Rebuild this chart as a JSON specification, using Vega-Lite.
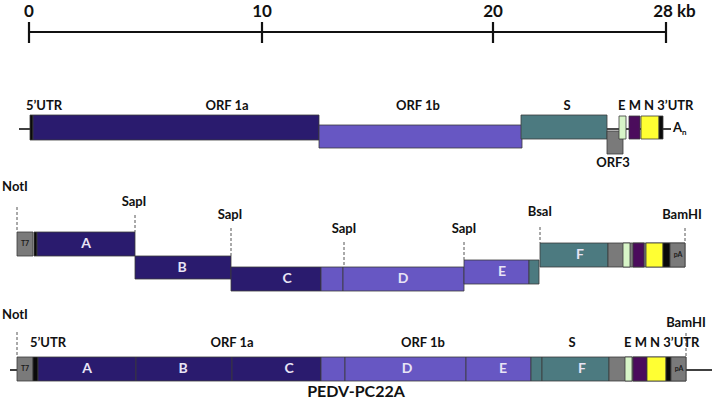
{
  "$schema": "https://vega.github.io/schema/vega-lite/v6.json",
  "width": 714,
  "height": 409,
  "padding": 0,
  "autosize": {"type": "fit", "contains": "padding"},
  "background": "white",
  "config": {"view": {"stroke": null}},
  "datasets": {
    "boxes": [
      {"row": "genome", "part": "black", "x": 30, "x2": 33, "y": 115, "y2": 140},
      {"row": "genome", "part": "navy", "x": 33, "x2": 319, "y": 115, "y2": 140},
      {"row": "genome", "part": "lavender", "x": 319, "x2": 522, "y": 125, "y2": 148},
      {"row": "genome", "part": "teal", "x": 521, "x2": 607, "y": 115, "y2": 139},
      {"row": "genome", "part": "grey", "x": 607, "x2": 623, "y": 131, "y2": 154},
      {"row": "genome", "part": "lightgreen", "x": 619, "x2": 626, "y": 116, "y2": 139},
      {"row": "genome", "part": "purple", "x": 629, "x2": 640, "y": 116, "y2": 139},
      {"row": "genome", "part": "yellow", "x": 641, "x2": 659, "y": 116, "y2": 139},
      {"row": "genome", "part": "black", "x": 659, "x2": 663, "y": 116, "y2": 139},

      {"row": "fragments", "part": "grey", "x": 17, "x2": 33, "y": 232, "y2": 256},
      {"row": "fragments", "part": "black", "x": 34, "x2": 37, "y": 232, "y2": 256},
      {"row": "fragments", "part": "navy", "x": 37, "x2": 135, "y": 232, "y2": 256},
      {"row": "fragments", "part": "navy", "x": 135, "x2": 231, "y": 256, "y2": 279},
      {"row": "fragments", "part": "navy", "x": 231, "x2": 321, "y": 267, "y2": 291},
      {"row": "fragments", "part": "lavender", "x": 321, "x2": 343, "y": 267, "y2": 291},
      {"row": "fragments", "part": "lavender", "x": 343, "x2": 464, "y": 267, "y2": 291},
      {"row": "fragments", "part": "lavender", "x": 464, "x2": 529, "y": 260, "y2": 284},
      {"row": "fragments", "part": "teal", "x": 529, "x2": 539, "y": 260, "y2": 284},
      {"row": "fragments", "part": "teal", "x": 540, "x2": 608, "y": 243, "y2": 267},
      {"row": "fragments", "part": "grey", "x": 608, "x2": 685, "y": 243, "y2": 267},
      {"row": "fragments", "part": "lightgreen", "x": 623, "x2": 630, "y": 243, "y2": 267},
      {"row": "fragments", "part": "purple", "x": 633, "x2": 644, "y": 243, "y2": 267},
      {"row": "fragments", "part": "yellow", "x": 646, "x2": 663, "y": 243, "y2": 267},
      {"row": "fragments", "part": "black", "x": 663, "x2": 670, "y": 243, "y2": 267},
      {"row": "fragments", "part": "grey", "x": 670, "x2": 685, "y": 243, "y2": 267},

      {"row": "clone", "part": "grey", "x": 17, "x2": 33, "y": 357, "y2": 381},
      {"row": "clone", "part": "black", "x": 33, "x2": 38, "y": 357, "y2": 381},
      {"row": "clone", "part": "navy", "x": 38, "x2": 136, "y": 357, "y2": 381},
      {"row": "clone", "part": "navy", "x": 136, "x2": 232, "y": 357, "y2": 381},
      {"row": "clone", "part": "navy", "x": 232, "x2": 321, "y": 357, "y2": 381},
      {"row": "clone", "part": "lavender", "x": 321, "x2": 345, "y": 357, "y2": 381},
      {"row": "clone", "part": "lavender", "x": 345, "x2": 466, "y": 357, "y2": 381},
      {"row": "clone", "part": "lavender", "x": 466, "x2": 531, "y": 357, "y2": 381},
      {"row": "clone", "part": "teal", "x": 531, "x2": 542, "y": 357, "y2": 381},
      {"row": "clone", "part": "teal", "x": 542, "x2": 609, "y": 357, "y2": 381},
      {"row": "clone", "part": "grey", "x": 609, "x2": 686, "y": 357, "y2": 381},
      {"row": "clone", "part": "lightgreen", "x": 625, "x2": 632, "y": 357, "y2": 381},
      {"row": "clone", "part": "purple", "x": 633, "x2": 647, "y": 357, "y2": 381},
      {"row": "clone", "part": "yellow", "x": 647, "x2": 666, "y": 357, "y2": 381},
      {"row": "clone", "part": "black", "x": 666, "x2": 671, "y": 357, "y2": 381},
      {"row": "clone", "part": "grey", "x": 671, "x2": 686, "y": 357, "y2": 381}
    ],
    "lines": [
      {"kind": "scale", "x": 29, "x2": 666, "y": 32, "y2": 32},
      {"kind": "scale", "x": 29, "x2": 29, "y": 22, "y2": 43},
      {"kind": "scale", "x": 262, "x2": 262, "y": 22, "y2": 43},
      {"kind": "scale", "x": 493, "x2": 493, "y": 22, "y2": 43},
      {"kind": "scale", "x": 666, "x2": 666, "y": 22, "y2": 43},
      {"kind": "seq", "x": 19, "x2": 30, "y": 129, "y2": 129},
      {"kind": "seq", "x": 607, "x2": 660, "y": 129, "y2": 129},
      {"kind": "seq", "x": 663, "x2": 671, "y": 129, "y2": 129},
      {"kind": "seq", "x": 10, "x2": 17, "y": 370, "y2": 370},
      {"kind": "seq", "x": 686, "x2": 712, "y": 370, "y2": 370}
    ],
    "dashes": [
      {"x": 17, "y": 207, "y2": 232},
      {"x": 135, "y": 215, "y2": 232},
      {"x": 231, "y": 228, "y2": 256},
      {"x": 344, "y": 242, "y2": 267},
      {"x": 464, "y": 242, "y2": 260},
      {"x": 540, "y": 227, "y2": 243},
      {"x": 685, "y": 228, "y2": 243},
      {"x": 17, "y": 332, "y2": 357},
      {"x": 686, "y": 333, "y2": 357}
    ],
    "labels": [
      {"kind": "scale", "text": "0", "x": 29, "y": 12},
      {"kind": "scale", "text": "10", "x": 262, "y": 12},
      {"kind": "scale", "text": "20", "x": 493, "y": 12},
      {"kind": "scale", "text": "28", "x": 663, "y": 12},
      {"kind": "scaleL", "text": "kb", "x": 677, "y": 12},

      {"kind": "gene", "text": "5’UTR", "x": 44, "y": 106},
      {"kind": "gene", "text": "ORF 1a", "x": 227, "y": 106},
      {"kind": "gene", "text": "ORF 1b", "x": 418, "y": 106},
      {"kind": "gene", "text": "S", "x": 567, "y": 106},
      {"kind": "geneL", "text": "E M N 3’UTR", "x": 618, "y": 106},
      {"kind": "gene", "text": "ORF3", "x": 613, "y": 163},
      {"kind": "geneL", "text": "A", "x": 673, "y": 128},
      {"kind": "sub", "text": "n", "x": 682, "y": 133},

      {"kind": "site", "text": "NotI", "x": 15, "y": 187},
      {"kind": "site", "text": "SapI", "x": 134, "y": 202},
      {"kind": "site", "text": "SapI", "x": 230, "y": 215},
      {"kind": "site", "text": "SapI", "x": 344, "y": 229},
      {"kind": "site", "text": "SapI", "x": 464, "y": 229},
      {"kind": "site", "text": "BsaI", "x": 540, "y": 212},
      {"kind": "site", "text": "BamHI", "x": 682, "y": 215},
      {"kind": "small", "text": "T7", "x": 25, "y": 244},
      {"kind": "small", "text": "pA", "x": 678, "y": 255},
      {"kind": "frag", "text": "A", "x": 86, "y": 244},
      {"kind": "frag", "text": "B", "x": 182, "y": 268},
      {"kind": "frag", "text": "C", "x": 287, "y": 279},
      {"kind": "frag", "text": "D", "x": 403, "y": 279},
      {"kind": "frag", "text": "E", "x": 502, "y": 272},
      {"kind": "frag", "text": "F", "x": 580, "y": 255},

      {"kind": "site", "text": "NotI", "x": 15, "y": 315},
      {"kind": "site", "text": "BamHI", "x": 686, "y": 323},
      {"kind": "gene", "text": "5’UTR", "x": 48, "y": 343},
      {"kind": "gene", "text": "ORF 1a", "x": 232, "y": 343},
      {"kind": "gene", "text": "ORF 1b", "x": 423, "y": 343},
      {"kind": "gene", "text": "S", "x": 572, "y": 343},
      {"kind": "geneL", "text": "E M N 3’UTR", "x": 624, "y": 343},
      {"kind": "small", "text": "T7", "x": 25, "y": 369},
      {"kind": "small", "text": "pA", "x": 679, "y": 369},
      {"kind": "frag", "text": "A", "x": 87, "y": 369},
      {"kind": "frag", "text": "B", "x": 183, "y": 369},
      {"kind": "frag", "text": "C", "x": 289, "y": 369},
      {"kind": "frag", "text": "D", "x": 407, "y": 369},
      {"kind": "frag", "text": "E", "x": 503, "y": 369},
      {"kind": "frag", "text": "F", "x": 582, "y": 369},
      {"kind": "title", "text": "PEDV-PC22A", "x": 356, "y": 392}
    ]
  },
  "encoding": {
    "x": {"field": "x", "type": "quantitative", "scale": {"domain": [0, 714], "nice": false, "zero": false}, "axis": null},
    "y": {"field": "y", "type": "quantitative", "scale": {"domain": [0, 409], "nice": false, "zero": false, "reverse": true}, "axis": null}
  },
  "layer": [
    {
      "data": {"name": "lines"},
      "transform": [{"filter": "datum.kind === 'seq'"}],
      "mark": {"type": "rule", "color": "#111111", "strokeWidth": 1.6},
      "encoding": {"x2": {"field": "x2"}, "y2": {"field": "y2"}}
    },
    {
      "data": {"name": "lines"},
      "transform": [{"filter": "datum.kind === 'scale'"}],
      "mark": {"type": "rule", "color": "#111111", "strokeWidth": 2.2},
      "encoding": {"x2": {"field": "x2"}, "y2": {"field": "y2"}}
    },
    {
      "data": {"name": "boxes"},
      "mark": {"type": "rect", "stroke": "#3a3a3a", "strokeWidth": 0.8},
      "encoding": {
        "x2": {"field": "x2"},
        "y2": {"field": "y2"},
        "color": {
          "field": "part",
          "type": "nominal",
          "legend": null,
          "scale": {
            "domain": ["navy", "lavender", "teal", "grey", "lightgreen", "purple", "yellow", "black"],
            "range": ["#2a1b6e", "#6757c3", "#4c7a80", "#7a7a7a", "#d8f5c8", "#4b0c5c", "#ffff33", "#0a0a0a"]
          }
        }
      }
    },
    {
      "data": {"name": "dashes"},
      "mark": {"type": "rule", "color": "#555555", "strokeWidth": 1, "strokeDash": [3, 2]},
      "encoding": {"y2": {"field": "y2"}}
    },
    {
      "data": {"name": "labels"},
      "transform": [{"filter": "datum.kind === 'scale'"}],
      "mark": {"type": "text", "font": "Lato", "fontWeight": "bold", "fontSize": 17, "align": "center", "baseline": "middle", "color": "#111111"},
      "encoding": {"text": {"field": "text"}}
    },
    {
      "data": {"name": "labels"},
      "transform": [{"filter": "datum.kind === 'scaleL'"}],
      "mark": {"type": "text", "font": "Lato", "fontWeight": "bold", "fontSize": 17, "align": "left", "baseline": "middle", "color": "#111111"},
      "encoding": {"text": {"field": "text"}}
    },
    {
      "data": {"name": "labels"},
      "transform": [{"filter": "datum.kind === 'gene'"}],
      "mark": {"type": "text", "font": "Lato", "fontWeight": "bold", "fontSize": 13, "align": "center", "baseline": "middle", "color": "#111111"},
      "encoding": {"text": {"field": "text"}}
    },
    {
      "data": {"name": "labels"},
      "transform": [{"filter": "datum.kind === 'geneL'"}],
      "mark": {"type": "text", "font": "Lato", "fontWeight": "bold", "fontSize": 13, "align": "left", "baseline": "middle", "color": "#111111"},
      "encoding": {"text": {"field": "text"}}
    },
    {
      "data": {"name": "labels"},
      "transform": [{"filter": "datum.kind === 'sub'"}],
      "mark": {"type": "text", "font": "Lato", "fontWeight": "bold", "fontSize": 8, "align": "left", "baseline": "middle", "color": "#111111"},
      "encoding": {"text": {"field": "text"}}
    },
    {
      "data": {"name": "labels"},
      "transform": [{"filter": "datum.kind === 'site'"}],
      "mark": {"type": "text", "font": "Lato", "fontWeight": "bold", "fontSize": 13, "align": "center", "baseline": "middle", "color": "#111111"},
      "encoding": {"text": {"field": "text"}}
    },
    {
      "data": {"name": "labels"},
      "transform": [{"filter": "datum.kind === 'small'"}],
      "mark": {"type": "text", "font": "Lato", "fontWeight": "bold", "fontSize": 7, "align": "center", "baseline": "middle", "color": "#1a1a1a"},
      "encoding": {"text": {"field": "text"}}
    },
    {
      "data": {"name": "labels"},
      "transform": [{"filter": "datum.kind === 'frag'"}],
      "mark": {"type": "text", "font": "Lato", "fontWeight": "bold", "fontSize": 14, "align": "center", "baseline": "middle", "color": "#e8e4f5"},
      "encoding": {"text": {"field": "text"}}
    },
    {
      "data": {"name": "labels"},
      "transform": [{"filter": "datum.kind === 'title'"}],
      "mark": {"type": "text", "font": "Lato", "fontWeight": "bold", "fontSize": 16, "align": "center", "baseline": "middle", "color": "#111111"},
      "encoding": {"text": {"field": "text"}}
    }
  ]
}
